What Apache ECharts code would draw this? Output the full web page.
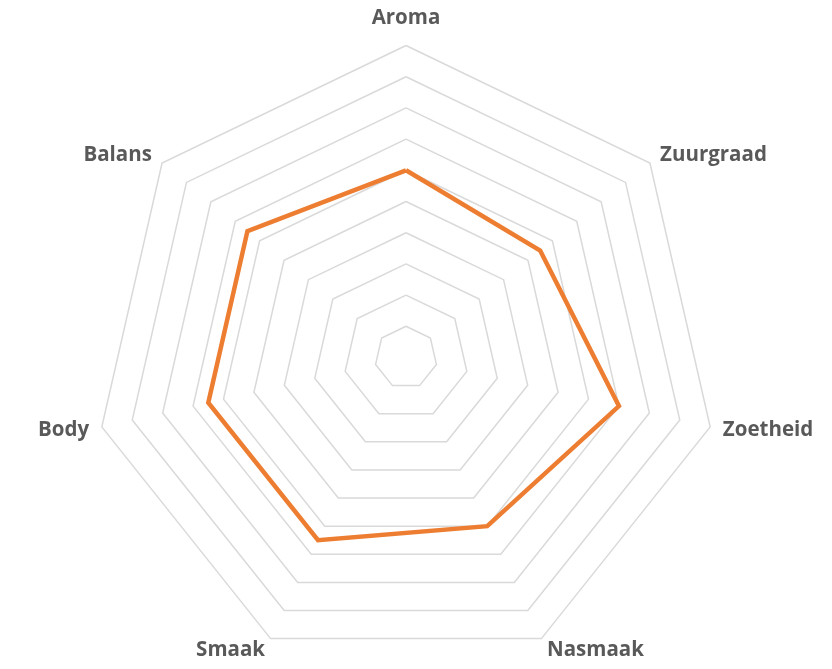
<!DOCTYPE html>
<html><head><meta charset="utf-8">
<script src="https://cdn.jsdelivr.net/npm/echarts@6/dist/echarts.min.js"></script>
<style>html,body{margin:0;padding:0;background:#fff}#c{width:832px;height:669px}</style>
</head><body><div id="c"></div>
<script>
const indicators = ['Aroma', 'Zuurgraad', 'Zoetheid', 'Nasmaak', 'Smaak', 'Body', 'Balans'];
const scores = [6.0, 5.5, 7.0, 6.0, 6.5, 6.5, 6.5];
const maxValue = 10;

// ECharts radar runs counter-clockwise; keep the first item on top and reverse the rest
const order = [0].concat(indicators.map((_, i) => i).slice(1).reverse());
const ind = order.map(i => ({name: indicators[i], max: maxValue, min: 0}));
const vals = order.map(i => scores[i]);

const nameStyle = {color: '#595959', fontSize: 20.5, fontWeight: 'bold', fontFamily: 'Open Sans'};

const chart = echarts.init(document.getElementById('c'), null, {renderer: 'canvas'});
chart.setOption({
  animation: false,
  radar: {
    center: [406, 357.5],
    radius: 312,
    startAngle: 90,
    splitNumber: 10,
    shape: 'polygon',
    nameGap: 13,
    indicator: ind,
    axisName: Object.assign({}, nameStyle, {
      formatter: (name) => name === indicators[0] ? '{top|' + name + '}' : name,
      rich: {top: Object.assign({}, nameStyle, {padding: [0, 0, 4, 0]})}
    }),
    axisLine: {show: false},
    axisTick: {show: false},
    axisLabel: {show: false},
    splitArea: {show: false},
    splitLine: {lineStyle: {color: '#d9d9d9', width: 1.5}}
  },
  series: [{
    type: 'radar',
    symbol: 'none',
    lineStyle: {color: '#ED7D31', width: 4.5, join: 'miter'},
    itemStyle: {color: '#ED7D31'},
    data: [{value: vals}]
  }]
});
</script></body></html>
